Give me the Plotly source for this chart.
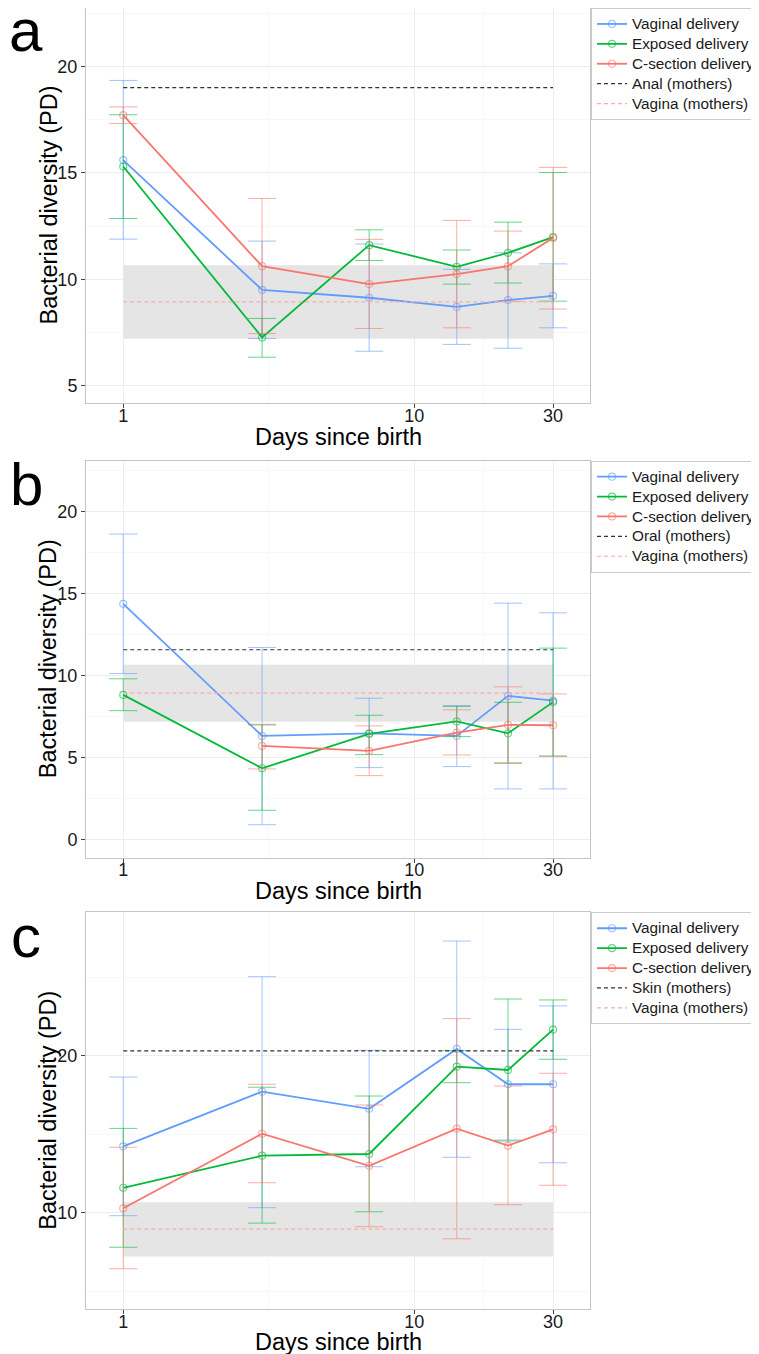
import plotly.graph_objects as go

# the page body has an 8px margin, so the figure is drawn 8px smaller and all
# pixel positions below are measured from the page corner minus that offset
OFF = 8
W, H = 759 - OFF, 1354 - OFF
FONT = "Liberation Sans, Arial, Helvetica, sans-serif"

# ---------------- data ----------------
days = [1, 3, 7, 14, 21, 30]
series_names = ["Vaginal delivery", "Exposed delivery", "C-section delivery"]
series_colors = ["#619CFF", "#00BA38", "#F8766D"]
series_rgb = [(97, 156, 255), (0, 186, 56), (248, 118, 109)]

# panel a (anal)
a_vaginal = [15.60, 9.51, 9.14, 8.71, 9.03, 9.23]
a_vaginal_hi = [19.34, 11.80, 11.66, 10.47, 11.25, 10.73]
a_vaginal_lo = [11.89, 7.23, 6.63, 6.95, 6.77, 7.73]
a_exposed = [15.30, 7.28, 11.61, 10.59, 11.25, 11.99]
a_exposed_hi = [17.73, 8.17, 12.33, 11.38, 12.69, 15.02]
a_exposed_lo = [12.86, 6.35, 10.89, 9.78, 9.83, 8.98]
a_csection = [17.71, 10.62, 9.78, 10.25, 10.62, 11.95]
a_csection_hi = [18.10, 13.80, 11.88, 12.77, 12.27, 15.26]
a_csection_lo = [17.32, 7.46, 7.70, 7.73, 8.97, 8.61]

# panel b (oral)
b_vaginal = [14.39, 6.34, 6.50, 6.34, 8.78, 8.49]
b_vaginal_hi = [18.64, 11.73, 8.64, 8.19, 14.43, 13.84]
b_vaginal_lo = [10.14, 0.93, 4.41, 4.47, 3.11, 3.11]
b_exposed = [8.84, 4.37, 6.46, 7.22, 6.50, 8.40]
b_exposed_hi = [9.82, 7.01, 7.60, 8.14, 8.39, 11.69]
b_exposed_lo = [7.88, 1.81, 5.20, 6.30, 4.67, 5.12]
b_csection = [None, 5.73, 5.43, 6.54, 7.01, 6.99]
b_csection_hi = [None, 7.05, 6.95, 7.93, 9.33, 8.90]
b_csection_lo = [None, 4.33, 3.92, 5.18, 4.71, 5.08]

# panel c (skin)
c_vaginal = [14.23, 17.71, 16.62, 20.43, 18.18, 18.18]
c_vaginal_hi = [18.64, 25.03, 20.34, 27.30, 21.68, 23.17]
c_vaginal_lo = [9.81, 10.32, 12.93, 13.53, 14.63, 13.18]
c_exposed = [11.59, 13.63, 13.74, 19.30, 19.09, 21.66]
c_exposed_hi = [15.37, 17.99, 17.43, 20.32, 23.61, 23.55]
c_exposed_lo = [7.80, 9.34, 10.06, 18.28, 14.57, 19.77]
c_csection = [10.28, 15.03, 12.99, 15.35, 14.27, 15.31]
c_csection_hi = [14.17, 18.18, 16.86, 22.36, 18.07, 18.88]
c_csection_lo = [6.43, 11.91, 9.11, 8.34, 10.51, 11.75]

# mothers
mother_labels = ["Anal (mothers)", "Oral (mothers)", "Skin (mothers)"]
mother_values = [19.00, 11.59, 20.30]
vagina_label = "Vagina (mothers)"
vagina_mean = 8.95
vagina_low = 7.21
vagina_high = 10.67

panel_letters = ["a", "b", "c"]
x_tick_vals = [1, 10, 30]
x_minor_vals = [3.162, 17.32]
y_tick_vals = [[5, 10, 15, 20], [0, 5, 10, 15, 20], [10, 20]]
y_minor_vals = [[7.5, 12.5, 17.5, 22.5], [2.5, 7.5, 12.5, 17.5, 22.5], [5, 15, 25]]
y_ranges = [[4.2, 22.74], [-1.08, 23.11], [3.87, 29.13]]

panels = [
    [(a_vaginal, a_vaginal_hi, a_vaginal_lo), (a_exposed, a_exposed_hi, a_exposed_lo),
     (a_csection, a_csection_hi, a_csection_lo)],
    [(b_vaginal, b_vaginal_hi, b_vaginal_lo), (b_exposed, b_exposed_hi, b_exposed_lo),
     (b_csection, b_csection_hi, b_csection_lo)],
    [(c_vaginal, c_vaginal_hi, c_vaginal_lo), (c_exposed, c_exposed_hi, c_exposed_lo),
     (c_csection, c_csection_hi, c_csection_lo)],
]

# ---------------- layout geometry (page pixels) ----------------
plot_left, plot_right = 86, 590
panel_tops = [8, 460.7, 912.3]
panel_bottoms = [403, 857.7, 1309]
legend_tops = [8, 460.7, 912.3]
letter_centers = [30, 484.7, 936.3]
x_title_centers = [437.5, 890.5, 1342]
x_range_log = [-0.128, 1.604]
LEGEND_TEXT_PX = 15.3   # rendered legend text size
LEGEND_ROW_FONT = 13    # font size that sets the legend row spacing


def px_x(p):
    return (p - OFF) / W


def px_y(p):
    return min(1.0, max(0.0, 1 - (p - OFF) / H))


def leg_name(s):
    return "<span style='font-size:%spx'>%s</span>" % (LEGEND_TEXT_PX, s)


fig = go.Figure()
annotations = []
layout_axes = {}

for i, series in enumerate(panels):
    sfx = "" if i == 0 else str(i + 1)
    xref, yref = "x" + sfx, "y" + sfx
    leg = "legend" if i == 0 else "legend" + str(i + 1)

    # grey band (vagina mothers range)
    fig.add_trace(go.Scatter(
        x=[days[0], days[-1], days[-1], days[0], days[0]],
        y=[vagina_low, vagina_low, vagina_high, vagina_high, vagina_low],
        fill="toself", fillcolor="#E5E5E5", mode="lines", line=dict(width=0),
        hoverinfo="skip", showlegend=False, xaxis=xref, yaxis=yref, legend=leg))

    # delivery series
    for name, col, rgb, (m, hi, lo) in zip(series_names, series_colors, series_rgb, series):
        plus = [None if v is None else h - v for v, h in zip(m, hi)]
        minus = [None if v is None else v - l for v, l in zip(m, lo)]
        light = "rgba(%d,%d,%d,0.6)" % rgb
        fig.add_trace(go.Scatter(
            x=days, y=m, name=leg_name(name), mode="lines+markers",
            line=dict(color=col, width=1.8),
            marker=dict(symbol="circle-open", size=7, color=light, line=dict(width=1.2)),
            error_y=dict(type="data", array=plus, arrayminus=minus, symmetric=False,
                         color=light, thickness=1, width=14),
            xaxis=xref, yaxis=yref, legend=leg))

    # mothers dashed lines
    fig.add_trace(go.Scatter(
        x=[days[0], days[-1]], y=[mother_values[i]] * 2, name=leg_name(mother_labels[i]),
        mode="lines", line=dict(color="#333333", width=1.2, dash="4px,3px"),
        xaxis=xref, yaxis=yref, legend=leg))
    fig.add_trace(go.Scatter(
        x=[days[0], days[-1]], y=[vagina_mean] * 2, name=leg_name(vagina_label),
        mode="lines", line=dict(color="#F4AFAA", width=1.2, dash="4px,3px"),
        xaxis=xref, yaxis=yref, legend=leg))

    top, bot = panel_tops[i], panel_bottoms[i]
    axis_common = dict(
        showline=True, mirror=True, linecolor="#C4C4C4", linewidth=1,
        ticks="outside", ticklen=4, tickcolor="#444444", tickwidth=1,
        tickfont=dict(family=FONT, size=18, color="#1A1A1A"),
        showgrid=True, gridcolor="#EDEDED", gridwidth=1, zeroline=False,
    )
    layout_axes["xaxis" + sfx] = dict(
        axis_common, type="log", range=x_range_log, tickmode="array",
        tickvals=x_tick_vals, ticktext=[str(v) for v in x_tick_vals],
        ticklabelstandoff=-8,
        minor=dict(tickmode="array", tickvals=x_minor_vals, showgrid=True,
                   gridcolor="#F7F7F7", ticks=""),
        domain=[px_x(plot_left), px_x(plot_right)], anchor=yref)
    layout_axes["yaxis" + sfx] = dict(
        axis_common, range=y_ranges[i], tickmode="array", tickvals=y_tick_vals[i],
        ticktext=[str(v) for v in y_tick_vals[i]],
        minor=dict(tickmode="array", tickvals=y_minor_vals[i], showgrid=True,
                   gridcolor="#F7F7F7", ticks=""),
        domain=[px_y(bot), px_y(top)], anchor=xref)

    layout_axes[leg] = dict(
        x=px_x(591), y=px_y(legend_tops[i]), xanchor="left", yanchor="top",
        bordercolor="#CCCCCC", borderwidth=1, bgcolor="white",
        font=dict(family=FONT, size=LEGEND_ROW_FONT, color="#1A1A1A"),
        tracegroupgap=0, itemwidth=30)

    # panel letter
    annotations.append(dict(
        text=panel_letters[i], xref="paper", yref="paper",
        x=px_x(26), y=px_y(letter_centers[i]), xanchor="center", yanchor="middle",
        showarrow=False, font=dict(family=FONT, size=60, color="black")))
    # axis titles
    annotations.append(dict(
        text="Days since birth", xref="paper", yref="paper",
        x=px_x((plot_left + plot_right) / 2), y=px_y(x_title_centers[i]),
        xanchor="center", yanchor="middle", showarrow=False,
        font=dict(family=FONT, size=23.5, color="black")))
    annotations.append(dict(
        text="Bacterial diversity (PD)", xref="paper", yref="paper",
        x=px_x(48), y=px_y((top + bot) / 2), textangle=-90,
        xanchor="center", yanchor="middle", showarrow=False,
        font=dict(family=FONT, size=23.5, color="black")))

fig.update_layout(
    width=W, height=H,
    margin=dict(l=0, r=0, t=0, b=0, autoexpand=False),
    paper_bgcolor="white", plot_bgcolor="white",
    showlegend=True, annotations=annotations,
    font=dict(family=FONT),
    **layout_axes)

fig.write_html("out.html")
